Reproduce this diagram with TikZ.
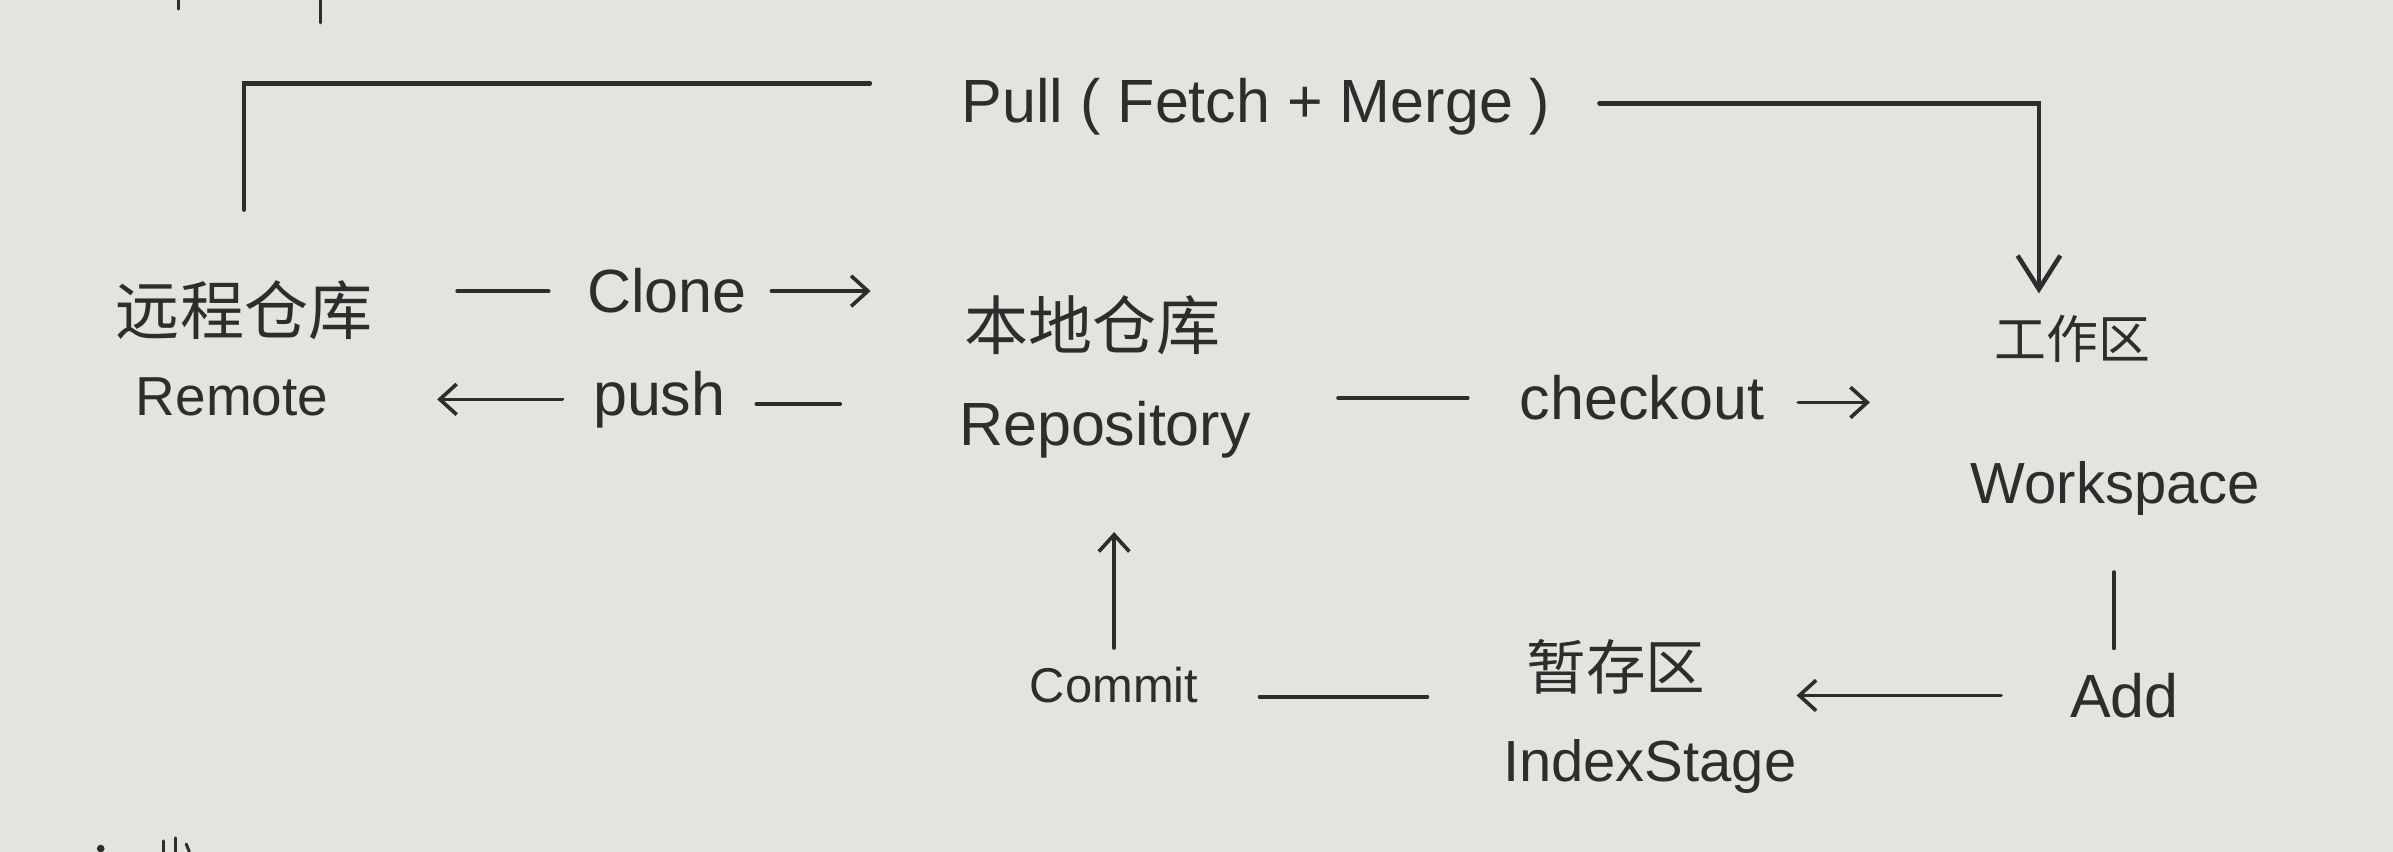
\documentclass[tikz,border=0pt]{standalone}
\usepackage{fontspec}
\setmainfont{Liberation Sans}
\newfontfamily\cjk{Noto Sans CJK SC}
\usetikzlibrary{arrows.meta}
\definecolor{paper}{RGB}{226,229,221}
\definecolor{ink}{RGB}{45,45,45}
\begin{document}
\begin{tikzpicture}[x=1pt,y=-1pt,
  ln/.style={draw=ink,line width=2.4pt,line cap=round},
  tip/.style={-{Straight Barb[length=11pt,width=20pt]}},
  bigtip/.style={-{Straight Barb[length=22pt,width=28pt]}},
  en/.style={text=ink,inner sep=0pt,anchor=base},
  cn/.style={text=ink,inner sep=0pt},
]
\fill[paper] (0,0) rectangle (1568,558);
\useasboundingbox (0,0) rectangle (1568,558);

% stray pen marks at the edges of the sheet
\draw[ln,line width=2pt] (117,0) -- (117,6);
\draw[ln,line width=2pt] (210,0) -- (210,15);
\draw[ln,line width=2pt] (107,551) -- (107,558);
\draw[ln,line width=2pt] (115,549) -- (115,558);
\draw[ln,line width=2pt] (122,553) -- (124,558);
\fill[ink] (66,556) circle (2.5);

% main nodes
\node[cn,font=\cjk\fontsize{42}{46}\selectfont] (remoteCN) at (160,203) {远程仓库};
\node[en,font=\fontsize{36}{40}\selectfont] (remoteEN) at (152,272) {Remote};
\node[cn,font=\cjk\fontsize{42}{46}\selectfont] (localCN) at (716,213) {本地仓库};
\node[en,font=\fontsize{40}{44}\selectfont] (localEN) at (724,292) {Repository};
\node[cn,font=\cjk\fontsize{34}{38}\selectfont] (workCN) at (1358,222) {工作区};
\node[en,font=\fontsize{38}{42}\selectfont] (workEN) at (1386,330) {Workspace};
\node[cn,font=\cjk\fontsize{39}{43}\selectfont] (stageCN) at (1059,437) {暂存区};
\node[en,font=\fontsize{38}{42}\selectfont] (stageEN) at (1081,512) {IndexStage};

% connector labels
\node[en,font=\fontsize{40}{44}\selectfont] (pull) at (823,80) {Pull ( Fetch + Merge )};
\node[en,font=\fontsize{40}{44}\selectfont] (clone) at (437,205) {Clone};
\node[en,font=\fontsize{40}{44}\selectfont] (push) at (432,272) {push};
\node[en,font=\fontsize{40}{44}\selectfont] (checkout) at (1076,275) {checkout};
\node[en,font=\fontsize{40}{44}\selectfont] (add) at (1392,470) {Add};
\node[en,font=\fontsize{32}{36}\selectfont] (commit) at (730,460) {Commit};

% Pull: remote -> workspace
\coordinate (pullL) at ([shift={(-60,-15)}]pull.west);
\coordinate (pullR) at ([shift={(32,-2)}]pull.east);
\coordinate (pullEnd) at ([xshift=-22pt]workCN.north);
\draw[ln,line width=3pt,shorten >=46pt] (pullL) -- (remoteCN.north |- pullL) -- (remoteCN.north);
\draw[ln,line width=3pt,bigtip,shorten >=14pt] (pullR) -- (pullEnd |- pullR) -- (pullEnd);

% Clone: remote -> local
\draw[ln] ([xshift=-25pt]clone.west) -- ([xshift=-85pt]clone.west);
\draw[ln,tip] ([xshift=16pt]clone.east) -- ([xshift=81pt]clone.east);

% push: local -> remote
\draw[ln,tip] ([xshift=-20pt]push.west) -- ([xshift=-102pt]push.west);
\draw[ln] ([shift={(20,3)}]push.east) -- ([shift={(75,3)}]push.east);

% checkout: local -> workspace
\draw[ln] ([xshift=-34pt]checkout.west) -- ([xshift=-119pt]checkout.west);
\draw[ln,tip] ([shift={(22,3)}]checkout.east) -- ([shift={(69,3)}]checkout.east);

% Add: workspace -> stage
\draw[ln] ([shift={(-7,-16)}]add.north) -- ([shift={(-7,-66)}]add.north);
\draw[ln,tip] ([xshift=-45pt]add.west) -- ([xshift=-179pt]add.west);

% Commit: stage -> local
\draw[ln] ([shift={(40,8)}]commit.east) -- ([shift={(150,8)}]commit.east);
\draw[ln,tip] ([yshift=12pt]commit.north) -- ([yshift=88pt]commit.north);
\end{tikzpicture}
\end{document}
